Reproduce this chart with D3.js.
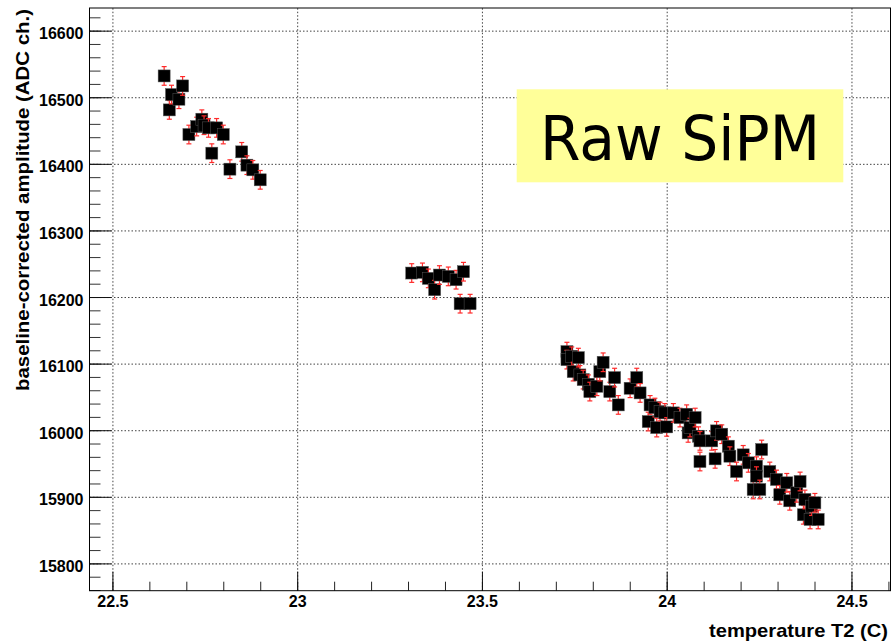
<!DOCTYPE html>
<html>
<head>
<meta charset="utf-8">
<script src="https://cdn.jsdelivr.net/npm/d3@7"></script>
<style>
  body { margin: 0; background: #fff; }
  svg { display: block; }
</style>
</head>
<body>
<svg id="chart" width="893" height="643"></svg>
<script>

// temperature T2 (C) and baseline-corrected amplitude (ADC ch.)
var tempC = [
  22.640, 22.654, 22.660, 22.680, 22.690, 22.707, 22.728, 22.742, 22.748, 22.760,
  22.769, 22.782, 22.800, 22.818, 22.850, 22.864, 22.880, 22.900,
  23.310, 23.339, 23.355, 23.372, 23.385, 23.409, 23.430, 23.441, 23.450, 23.468,
  23.730, 23.730, 23.743, 23.747, 23.761, 23.765, 23.774, 23.788, 23.792, 23.811,
  23.819, 23.828, 23.846, 23.859, 23.869, 23.901, 23.919, 23.928, 23.950, 23.955,
  23.968, 23.973, 23.982, 23.995, 24.000, 24.018, 24.036, 24.054, 24.058, 24.063,
  24.077, 24.086, 24.090, 24.090, 24.122, 24.131, 24.135, 24.149, 24.167, 24.171,
  24.189, 24.207, 24.221, 24.234, 24.243, 24.243, 24.252, 24.257, 24.279, 24.297,
  24.306, 24.325, 24.333, 24.352, 24.361, 24.370, 24.374, 24.388, 24.392, 24.401,
  24.410
];
var amplitude = [
  16532, 16481, 16504, 16497, 16517, 16444, 16456, 16467, 16458, 16454,
  16416, 16454, 16444, 16392, 16418, 16398, 16391, 16376,
  16236, 16237, 16228, 16211, 16233, 16231, 16226, 16190, 16238, 16190,
  16118, 16106, 16111, 16088, 16109, 16083, 16076, 16069, 16058, 16066,
  16088, 16102, 16058, 16079, 16038, 16063, 16079, 16056, 16013, 16038,
  16034, 16004, 16028, 16026, 16005, 16026, 16019, 16024, 15996, 16004,
  16019, 15991, 15953, 15984, 15984, 15957, 15999, 15994, 15976, 15961,
  15938, 15963, 15951, 15911, 15946, 15931, 15911, 15971, 15938, 15926,
  15903, 15921, 15894, 15906, 15923, 15873, 15896, 15866, 15886, 15891,
  15866
];
var ampErr = 14;

var xTicks = [22.5, 23, 23.5, 24, 24.5];
var yTicks = [15800, 15900, 16000, 16100, 16200, 16300, 16400, 16500, 16600];
var xMinor = d3.range(225, 247).map(function(d) { return d / 10; });
var yMinor = d3.range(15760, 16640, 20);

var width = 893, height = 643,
  margin = {top: 8, right: 2, bottom: 52.3, left: 89.5},
  font = "'Liberation Sans', Arial, Helvetica, sans-serif";

var svg = d3.select('#chart');

var xScale = d3.scaleLinear()
  .domain([22.438, 24.607])
  .range([margin.left, width - margin.right]);
var yScale = d3.scaleLinear()
  .domain([15759, 16634])
  .range([height - margin.bottom, margin.top]);

var plotW = width - margin.left - margin.right,
  plotH = height - margin.top - margin.bottom;

//dotted grid
svg.append('g')
  .attr('transform', 'translate(0,' + (height - margin.bottom) + ')')
  .call(d3.axisBottom(xScale).tickValues(xTicks).tickSize(-plotH).tickFormat(''))
  .call(function(g) { g.select('.domain').remove(); })
  .selectAll('line')
    .attr('stroke', '#444')
    .attr('stroke-dasharray', '1.5,2');
svg.append('g')
  .attr('transform', 'translate(' + margin.left + ',0)')
  .call(d3.axisLeft(yScale).tickValues(yTicks).tickSize(-plotW).tickFormat(''))
  .call(function(g) { g.select('.domain').remove(); })
  .selectAll('line')
    .attr('stroke', '#444')
    .attr('stroke-dasharray', '1.5,2');

//minor ticks
svg.append('g')
  .attr('transform', 'translate(0,' + (height - margin.bottom) + ')')
  .call(d3.axisBottom(xScale).tickValues(xMinor).tickSizeInner(-9).tickSizeOuter(0).tickFormat(''))
  .call(function(g) { g.select('.domain').remove(); })
  .selectAll('line').attr('stroke', '#222');
svg.append('g')
  .attr('transform', 'translate(' + margin.left + ',0)')
  .call(d3.axisLeft(yScale).tickValues(yMinor).tickSizeInner(-11).tickSizeOuter(0).tickFormat(''))
  .call(function(g) { g.select('.domain').remove(); })
  .selectAll('line').attr('stroke', '#333');

//major ticks and labels
var gX = svg.append('g')
  .attr('transform', 'translate(0,' + (height - margin.bottom) + ')')
  .call(d3.axisBottom(xScale).tickValues(xTicks).tickSizeInner(-19).tickSizeOuter(0)
    .tickPadding(5).tickFormat(d3.format('')));
var gY = svg.append('g')
  .attr('transform', 'translate(' + margin.left + ',0)')
  .call(d3.axisLeft(yScale).tickValues(yTicks).tickSizeInner(-22).tickSizeOuter(0)
    .tickPadding(6).tickFormat(d3.format('d')));

[gX, gY].forEach(function(g) {
  g.select('.domain').remove();
  g.selectAll('line').attr('stroke', '#111');
  g.selectAll('text')
    .attr('fill', '#000')
    .attr('font-family', font)
    .attr('font-weight', 'bold')
    .attr('font-size', 16);
});
gX.selectAll('text').attr('dy', '0.71em');
gY.selectAll('text').attr('dy', '0.5em');

//frame
svg.append('rect')
  .attr('x', margin.left)
  .attr('y', margin.top)
  .attr('width', plotW - 0.5)
  .attr('height', plotH)
  .attr('fill', 'none')
  .attr('stroke', '#000')
  .attr('stroke-width', 1);

//points: error bar then marker, one point at a time
var pts = svg.append('g')
  .selectAll('g')
  .data(tempC)
  .enter()
  .append('g');

pts.append('line')
  .attr('x1', function(d) { return xScale(d); })
  .attr('x2', function(d) { return xScale(d); })
  .attr('y1', function(d, i) { return yScale(amplitude[i] - ampErr); })
  .attr('y2', function(d, i) { return yScale(amplitude[i] + ampErr); })
  .attr('stroke', '#ff2a2a')
  .attr('stroke-width', 1.2);
[-1, 1].forEach(function(s) {
  pts.append('line')
    .attr('x1', function(d) { return xScale(d) - 2.5; })
    .attr('x2', function(d) { return xScale(d) + 2.5; })
    .attr('y1', function(d, i) { return yScale(amplitude[i] + s * ampErr); })
    .attr('y2', function(d, i) { return yScale(amplitude[i] + s * ampErr); })
    .attr('stroke', '#ff2a2a')
    .attr('stroke-width', 1.2);
});

var size = 12;
pts.append('rect')
  .attr('x', function(d) { return xScale(d) - size / 2; })
  .attr('y', function(d, i) { return yScale(amplitude[i]) - size / 2; })
  .attr('width', size)
  .attr('height', size)
  .attr('fill', '#000')
  .attr('stroke', '#555')
  .attr('stroke-width', 0.5);

//axis titles
svg.append('text')
  .attr('x', 888)
  .attr('y', 637)
  .attr('text-anchor', 'end')
  .attr('font-family', font)
  .attr('font-weight', 'bold')
  .attr('font-size', 19)
  .attr('textLength', 179)
  .attr('lengthAdjust', 'spacingAndGlyphs')
  .text('temperature T2 (C)');

svg.append('text')
  .attr('transform', 'rotate(-90)')
  .attr('x', -9)
  .attr('y', 29)
  .attr('text-anchor', 'end')
  .attr('font-family', font)
  .attr('font-weight', 'bold')
  .attr('font-size', 19)
  .attr('textLength', 382)
  .attr('lengthAdjust', 'spacingAndGlyphs')
  .text('baseline-corrected amplitude (ADC ch.)');

//label box
svg.append('rect')
  .attr('x', 516.7)
  .attr('y', 89.3)
  .attr('width', 326.6)
  .attr('height', 93)
  .attr('fill', '#ffff99');
svg.append('text')
  .attr('x', 680)
  .attr('y', 160)
  .attr('text-anchor', 'middle')
  .attr('font-family', "'DejaVu Sans', Verdana, sans-serif")
  .attr('font-size', 63)
  .attr('textLength', 280)
  .attr('lengthAdjust', 'spacingAndGlyphs')
  .attr('fill', '#000')
  .text('Raw SiPM');

</script>
</body>
</html>
